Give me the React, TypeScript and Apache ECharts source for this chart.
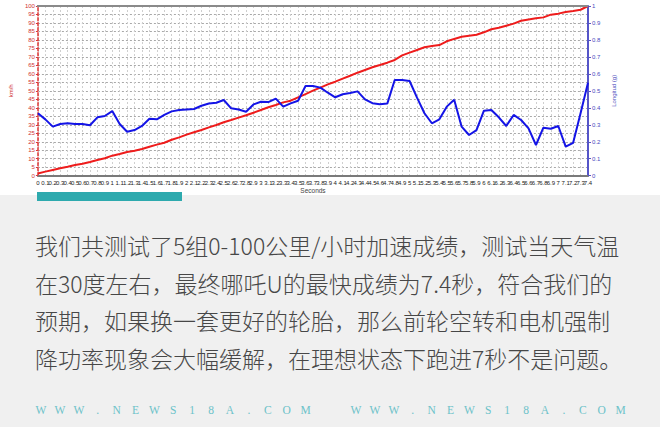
import React, { useEffect, useRef } from "react";
import * as echarts from "echarts";

const seconds = [
  "0", "0.1", "0.2", "0.3", "0.4", "0.5", "0.6", "0.7", "0.8", "0.9",
  "1", "1.1", "1.2", "1.3", "1.4", "1.5", "1.6", "1.7", "1.8", "1.9",
  "2", "2.1", "2.2", "2.3", "2.4", "2.5", "2.6", "2.7", "2.8", "2.9",
  "3", "3.1", "3.2", "3.3", "3.4", "3.5", "3.6", "3.7", "3.8", "3.9",
  "4", "4.1", "4.2", "4.3", "4.4", "4.5", "4.6", "4.7", "4.8", "4.9",
  "5", "5.1", "5.2", "5.3", "5.4", "5.5", "5.6", "5.7", "5.8", "5.9",
  "6", "6.1", "6.2", "6.3", "6.4", "6.5", "6.6", "6.7", "6.8", "6.9",
  "7", "7.1", "7.2", "7.3", "7.4",
];

const speedKmh = [
  1.3, 2.4, 3.4, 4.4, 5.3, 6.3, 7.1, 8.1, 9.3, 10.3,
  11.8, 12.8, 14.0, 14.7, 15.7, 17.1, 18.3, 19.4, 21.2, 22.6,
  24.2, 25.6, 26.9, 28.5, 29.9, 31.5, 32.8, 34.2, 35.6, 37.1,
  38.7, 40.3, 41.7, 43.2, 44.2, 46.2, 48.1, 50.1, 51.9, 53.8,
  55.4, 57.2, 58.9, 60.7, 62.3, 63.9, 65.2, 66.6, 68.2, 70.9,
  72.5, 74.1, 75.7, 76.4, 77.0, 79.2, 80.6, 81.9, 82.5, 83.1,
  84.5, 86.3, 87.2, 88.4, 89.6, 91.3, 92.1, 92.8, 93.3, 94.9,
  95.5, 96.5, 97.1, 97.8, 100,
];

const longitudG = [
  0.368, 0.332, 0.289, 0.305, 0.309, 0.305, 0.305, 0.297, 0.344, 0.352,
  0.381, 0.305, 0.259, 0.269, 0.293, 0.336, 0.332, 0.358, 0.379, 0.387,
  0.39, 0.393, 0.412, 0.425, 0.43, 0.446, 0.397, 0.39, 0.377, 0.42,
  0.436, 0.434, 0.454, 0.407, 0.426, 0.442, 0.529, 0.529, 0.519, 0.489,
  0.462, 0.48, 0.487, 0.497, 0.45, 0.427, 0.421, 0.425, 0.564, 0.564,
  0.558, 0.46, 0.368, 0.309, 0.332, 0.407, 0.448, 0.289, 0.24, 0.269,
  0.383, 0.387, 0.344, 0.293, 0.358, 0.328, 0.279, 0.181, 0.283, 0.277,
  0.293, 0.171, 0.194, 0.368, 0.548,
];

const paragraphLines = [
  "我们共测试了5组0-100公里/小时加速成绩，测试当天气温",
  "在30度左右，最终哪吒U的最快成绩为7.4秒，符合我们的",
  "预期，如果换一套更好的轮胎，那么前轮空转和电机强制",
  "降功率现象会大幅缓解，在理想状态下跑进7秒不是问题。",
];

const watermark = "WWW.NEWS18A.COM";

export default function App() {
  const ref = useRef<HTMLDivElement>(null);

  useEffect(() => {
    if (!ref.current) return;
    const chart = echarts.init(ref.current, undefined, { renderer: "svg" });

    const graphics: any[] = [
      {
        type: "rect",
        left: 0,
        top: 195,
        z: -10,
        shape: { width: 660, height: 232 },
        style: { fill: "#f0f0f0" },
      },
      {
        type: "rect",
        left: 37,
        top: 192,
        z: 10,
        shape: { width: 145, height: 9 },
        style: { fill: "#2eaaae" },
      },
      {
        type: "line",
        z: 10,
        shape: { x1: 37, y1: 6, x2: 588, y2: 6 },
        style: { stroke: "#8a8a8a", lineWidth: 2 },
      },
    ];

    paragraphLines.forEach((line, i) => {
      graphics.push({
        type: "text",
        x: 35,
        y: 245 + i * 37.5,
        z: 10,
        style: {
          text: line,
          fill: "#474747",
          font: '300 23px "Noto Sans CJK SC"',
          verticalAlign: "middle",
          align: "left",
        },
      });
    });

    [35, 350].forEach((startX) => {
      watermark.split("").forEach((ch, k) => {
        graphics.push({
          type: "text",
          x: startX + 6 + k * 18.9,
          y: 410,
          z: 10,
          style: {
            text: ch,
            fill: "#6cc2c9",
            font: '11.5px "Liberation Serif"',
            verticalAlign: "middle",
            align: "center",
          },
        });
      });
    });

    const option: any = {
      animation: false,
      backgroundColor: "#ffffff",
      textStyle: { fontFamily: "Liberation Sans" },
      grid: { left: 37, right: 72, top: 6, bottom: 251.3, containLabel: false },
      xAxis: {
        type: "category",
        data: seconds,
        boundaryGap: false,
        name: "Seconds",
        nameLocation: "middle",
        nameGap: 11,
        nameTextStyle: { fontSize: 6.5, color: "#444" },
        axisLine: { lineStyle: { color: "#7a7a7a", width: 2 } },
        axisTick: { show: false },
        axisLabel: { interval: 0, fontSize: 6, color: "#222", margin: 4 },
        splitLine: {
          show: true,
          interval: 0,
          lineStyle: { color: "#cfcfcf", type: [2, 2], width: 1 },
        },
      },
      yAxis: [
        {
          type: "value",
          min: 0,
          max: 100,
          interval: 5,
          name: "km/h",
          nameLocation: "middle",
          nameGap: 15,
          nameRotate: 90,
          nameTextStyle: { fontSize: 6, color: "#d03030" },
          axisLine: {
            show: true,
            lineStyle: { color: "#dd3333", width: 1.5, type: [3, 2] },
          },
          axisTick: { show: true, length: 2, lineStyle: { color: "#dd3333" } },
          axisLabel: { fontSize: 6, color: "#d03030", margin: 3 },
          splitLine: {
            show: true,
            lineStyle: { color: "#a8a8a8", type: [2, 2], width: 1 },
          },
        },
        {
          type: "value",
          min: 0,
          max: 1,
          interval: 0.1,
          position: "right",
          name: "Longitud (g)",
          nameLocation: "middle",
          nameGap: 16,
          nameRotate: 90,
          nameTextStyle: { fontSize: 6, color: "#5050c0" },
          axisLine: { show: true, lineStyle: { color: "#5555c8", width: 2 } },
          axisTick: { show: true, length: 3, lineStyle: { color: "#5555c8" } },
          axisLabel: {
            fontSize: 6,
            color: "#4a4ac0",
            margin: 4,
            formatter: (v: number) => String(Math.round(v * 10) / 10),
          },
          splitLine: { show: false },
        },
      ],
      series: [
        {
          name: "km/h",
          type: "line",
          yAxisIndex: 0,
          data: speedKmh,
          showSymbol: false,
          symbol: "none",
          lineStyle: { color: "#ee1c1c", width: 2 },
          itemStyle: { color: "#ee1c1c" },
          z: 5,
        },
        {
          name: "Longitud (g)",
          type: "line",
          yAxisIndex: 1,
          data: longitudG,
          showSymbol: false,
          symbol: "none",
          lineStyle: { color: "#1414e6", width: 2 },
          itemStyle: { color: "#1414e6" },
          z: 6,
        },
      ],
      graphic: graphics,
    };

    chart.setOption(option);
    return () => chart.dispose();
  }, []);

  return (
    <div
      ref={ref}
      style={{ position: "absolute", left: 0, top: 0, width: 660, height: 427 }}
    />
  );
}
